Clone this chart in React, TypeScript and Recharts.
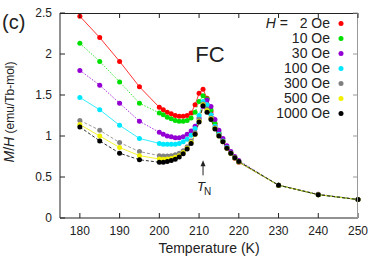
import React from 'react';
import { LineChart, Line, XAxis, YAxis, ReferenceDot, Legend } from 'recharts';

// temperatures (K)
const temps = [180, 185, 190, 195, 200, 201, 202, 203, 204, 205, 206, 207, 208, 209, 210, 211, 212, 213, 214, 215, 216, 217, 218, 219, 220, 230, 240, 250];

// M/H (emu/Tb-mol) for each field
const h2 = [2.46, 2.2, 1.91, 1.6, 1.35, 1.32, 1.29, 1.27, 1.25, 1.24, 1.24, 1.25, 1.28, 1.38, 1.52, 1.57, 1.46, 1.3, 1.15, 1.03, 0.94, 0.86, 0.79, 0.73, 0.68, 0.4, 0.285, 0.225];
const h10 = [2.13, 1.91, 1.66, 1.4, 1.28, 1.26, 1.23, 1.21, 1.19, 1.18, 1.18, 1.19, 1.22, 1.29, 1.42, 1.49, 1.45, 1.32, 1.16, 1.04, 0.94, 0.86, 0.79, 0.735, 0.685, 0.4, 0.285, 0.225];
const h30 = [1.8, 1.62, 1.4, 1.18, 1.045, 1.02, 1.0, 0.99, 0.98, 0.98, 0.99, 1.02, 1.06, 1.12, 1.22, 1.36, 1.44, 1.36, 1.2, 1.07, 0.97, 0.88, 0.81, 0.75, 0.7, 0.4, 0.29, 0.225];
const h100 = [1.47, 1.32, 1.13, 0.97, 0.91, 0.9, 0.9, 0.9, 0.9, 0.91, 0.93, 0.96, 1.01, 1.09, 1.25, 1.42, 1.38, 1.26, 1.12, 1.02, 0.94, 0.86, 0.79, 0.735, 0.685, 0.4, 0.285, 0.225];
const h300 = [1.19, 1.07, 0.92, 0.81, 0.76, 0.755, 0.755, 0.76, 0.77, 0.79, 0.82, 0.87, 0.94, 1.04, 1.2, 1.39, 1.33, 1.22, 1.1, 1.01, 0.93, 0.85, 0.79, 0.735, 0.685, 0.4, 0.285, 0.225];
const h500 = [1.14, 1.0, 0.86, 0.76, 0.72, 0.715, 0.72, 0.725, 0.74, 0.76, 0.8, 0.85, 0.92, 1.02, 1.18, 1.38, 1.31, 1.21, 1.09, 1.0, 0.93, 0.85, 0.79, 0.735, 0.685, 0.4, 0.285, 0.225];
const h1000 = [1.11, 0.94, 0.79, 0.71, 0.68, 0.68, 0.69, 0.7, 0.715, 0.745, 0.785, 0.84, 0.91, 1.02, 1.17, 1.37, 1.29, 1.2, 1.085, 1.0, 0.93, 0.85, 0.79, 0.735, 0.69, 0.4, 0.285, 0.225];

const fieldLabels = ['2 Oe', '10 Oe', '30 Oe', '100 Oe', '300 Oe', '500 Oe', '1000 Oe'];
const xTicks = [180, 190, 200, 210, 220, 230, 240, 250];
const yTicks = [0, 0.5, 1, 1.5, 2, 2.5];
const xDomain = [175, 250];
const yDomain = [0, 2.5];

const series = [
  { key: 'h2', values: h2, color: '#ff0000', dash: undefined },
  { key: 'h10', values: h10, color: '#00e000', dash: '1.5 1.5' },
  { key: 'h30', values: h30, color: '#9400d3', dash: '1.5 1.5' },
  { key: 'h100', values: h100, color: '#00e8ff', dash: undefined },
  { key: 'h300', values: h300, color: '#808080', dash: '3 2' },
  { key: 'h500', values: h500, color: '#f0f000', dash: undefined },
  { key: 'h1000', values: h1000, color: '#000000', dash: '3 2' },
];

const data = temps.map((t, i) => {
  const row: Record<string, number> = { T: t };
  series.forEach((s) => (row[s.key] = s.values[i]));
  return row;
});

const FONT = "'Liberation Sans', Arial, sans-serif";
const AXIS = '#222';

// chart box: the plot area follows from these margins and axis sizes
const W = 374;
const H = 262;
const M_TOP = 13;
const M_RIGHT = 16;
const Y_AXIS_W = 60;
const X_AXIS_H = 44;
const PLOT_L = Y_AXIS_W;
const PLOT_R = W - M_RIGHT;
const PLOT_T = M_TOP;
const PLOT_B = H - X_AXIS_H;
const sx = (t: number) => PLOT_L + ((t - xDomain[0]) / (xDomain[1] - xDomain[0])) * (PLOT_R - PLOT_L);
const sy = (v: number) => PLOT_B - ((v - yDomain[0]) / (yDomain[1] - yDomain[0])) * (PLOT_B - PLOT_T);

const TnArrow = (props: any) => {
  const { cx, cy } = props;
  return (
    <g>
      <line x1={cx} y1={cy} x2={cx} y2={cy - 12} stroke={AXIS} strokeWidth={1} />
      <path d={`M${cx - 2.5},${cy - 9} L${cx},${cy - 15} L${cx + 2.5},${cy - 9} Z`} fill={AXIS} />
      <text x={cx - 6} y={cy + 16} fontSize={13} fontStyle="italic" fontFamily={FONT} fill={AXIS}>T</text>
      <text x={cx + 1} y={cy + 20} fontSize={10} fontFamily={FONT} fill={AXIS}>N</text>
    </g>
  );
};

const renderLegend = () => (
  <svg width={110} height={112}>
    {series.map((s, i) => (
      <g key={s.key}>
        <text x={80} y={13 + i * 15} textAnchor="end" fontSize={14} fontFamily={FONT} fill={AXIS}>
          {i === 0 && <tspan fontStyle="italic">H</tspan>}
          {i === 0 ? '\u00a0=\u00a0\u00a0\u00a0' + fieldLabels[i] : fieldLabels[i]}
        </text>
        <circle cx={91} cy={8.5 + i * 15} r={2.5} fill={s.color} />
      </g>
    ))}
  </svg>
);

export default function App() {
  return (
    <div style={{ position: 'absolute', left: 0, top: 0, width: W, height: H, background: '#fff', fontFamily: FONT }}>
      <LineChart width={W} height={H} data={data} margin={{ top: M_TOP, right: M_RIGHT, bottom: 0, left: 0 }}>
        <XAxis
          dataKey="T"
          type="number"
          domain={xDomain}
          ticks={xTicks}
          height={X_AXIS_H}
          tickSize={-5}
          tickMargin={13}
          stroke={AXIS}
          tick={{ fontSize: 12, fill: AXIS, fontFamily: FONT }}
          label={{ value: 'Temperature (K)', position: 'insideBottom', offset: 9, fontSize: 14, fill: AXIS, fontFamily: FONT }}
        />
        <YAxis
          type="number"
          domain={yDomain}
          ticks={yTicks}
          width={Y_AXIS_W}
          tickSize={-5}
          tickMargin={13}
          stroke={AXIS}
          tick={{ fontSize: 12, fill: AXIS, fontFamily: FONT }}
        />
        {series.map((s) => (
          <Line
            key={s.key}
            dataKey={s.key}
            stroke={s.color}
            strokeWidth={0.8}
            strokeDasharray={s.dash}
            dot={{ r: 2.5, fill: s.color, stroke: 'none' }}
            activeDot={false}
            isAnimationActive={false}
          />
        ))}
        <ReferenceDot x={211} y={0.52} shape={TnArrow} />
        <Legend
          layout="vertical"
          align="center"
          verticalAlign="middle"
          content={renderLegend}
          wrapperStyle={{ left: 250, top: 15, width: 110, height: 112 }}
        />
      </LineChart>
      <svg width={W} height={H} style={{ position: 'absolute', left: 0, top: 0, pointerEvents: 'none' }}>
        {/* top and right frame with mirrored inward ticks */}
        <line x1={PLOT_L} y1={PLOT_T + 0.5} x2={PLOT_R} y2={PLOT_T + 0.5} stroke={AXIS} />
        <line x1={PLOT_R - 0.5} y1={PLOT_T} x2={PLOT_R - 0.5} y2={PLOT_B} stroke="#999" />
        {xTicks.map((t) => (
          <line key={'tx' + t} x1={sx(t)} y1={PLOT_T} x2={sx(t)} y2={PLOT_T + 5} stroke={AXIS} />
        ))}
        {yTicks.map((v) => (
          <line key={'ty' + v} x1={PLOT_R} y1={sy(v)} x2={PLOT_R - 5} y2={sy(v)} stroke="#999" />
        ))}
        <text x={2} y={29} fontSize={20} fontFamily={FONT} fill={AXIS}>(c)</text>
        <text x={210} y={62} fontSize={22} textAnchor="middle" fontFamily={FONT} fill={AXIS}>FC</text>
        <text transform="translate(14,112) rotate(-90)" textAnchor="middle" fontFamily={FONT} fill={AXIS}>
          <tspan fontSize={14} fontStyle="italic">M</tspan>
          <tspan fontSize={14}>/</tspan>
          <tspan fontSize={14} fontStyle="italic">H</tspan>
          <tspan fontSize={12}> (emu/Tb-mol)</tspan>
        </text>
      </svg>
    </div>
  );
}
